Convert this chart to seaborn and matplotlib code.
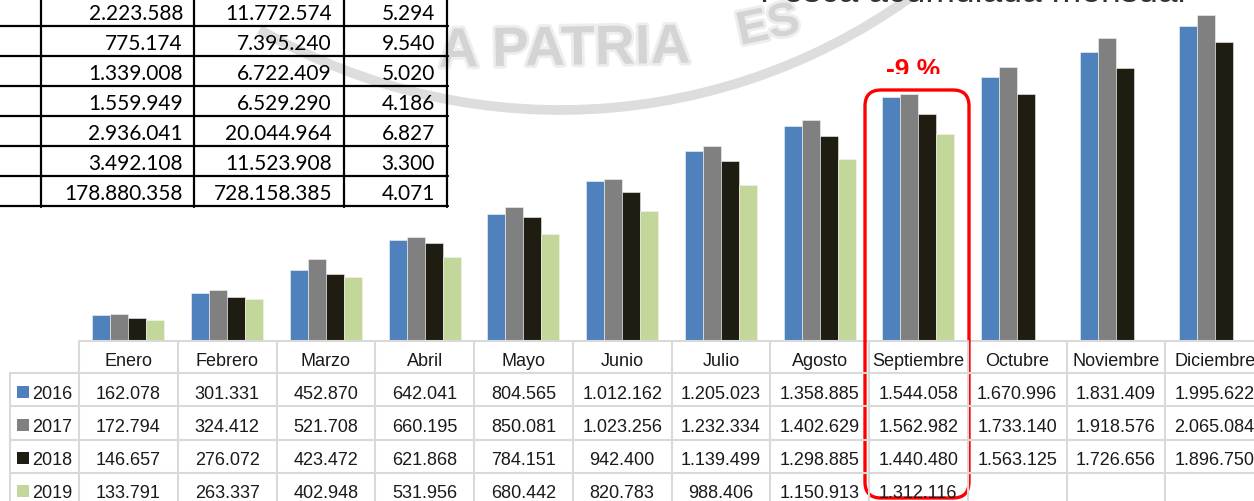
import matplotlib
matplotlib.use('Agg')
import matplotlib.pyplot as plt
import matplotlib.transforms as mtransforms
import matplotlib.patheffects as pe
from matplotlib.patches import FancyBboxPatch, Rectangle, Arc
from matplotlib import font_manager
import seaborn as sns
import pandas as pd

# pesca acumulada mensual (t)
meses = ['Enero', 'Febrero', 'Marzo', 'Abril', 'Mayo', 'Junio', 'Julio',
         'Agosto', 'Septiembre', 'Octubre', 'Noviembre', 'Diciembre']
anios = ['2016', '2017', '2018', '2019']
pesca_2016 = [162078, 301331, 452870, 642041, 804565, 1012162, 1205023,
              1358885, 1544058, 1670996, 1831409, 1995622]
pesca_2017 = [172794, 324412, 521708, 660195, 850081, 1023256, 1232334,
              1402629, 1562982, 1733140, 1918576, 2065084]
pesca_2018 = [146657, 276072, 423472, 621868, 784151, 942400, 1139499,
              1298885, 1440480, 1563125, 1726656, 1896750]
pesca_2019 = [133791, 263337, 402948, 531956, 680442, 820783, 988406,
              1150913, 1312116]
colores = ['#4F81BD', '#808080', '#1F1C12', '#C4D79B']

# tabla recortada de arriba a la izquierda
tabla_col1 = [2223588, 775174, 1339008, 1559949, 2936041, 3492108, 178880358]
tabla_col2 = [11772574, 7395240, 6722409, 6529290, 20044964, 11523908, 728158385]
tabla_col3 = [5294, 9540, 5020, 4186, 6827, 3300, 4071]


def fmt(v):
    return f'{v:,}'.replace(',', '.')


rows = []
for anio, valores in zip(anios, [pesca_2016, pesca_2017, pesca_2018, pesca_2019]):
    for mes, v in zip(meses, valores):
        rows.append((mes, anio, v))
df = pd.DataFrame(rows, columns=['Mes', 'Año', 'Toneladas'])

nombres = {f.name for f in font_manager.fontManager.ttflist}
if 'Liberation Sans Narrow' in nombres:
    fuente_tabla, tam_tabla = 'Liberation Sans Narrow', 15
else:
    fuente_tabla, tam_tabla = 'Liberation Sans', 13

sns.set_style('white')
plt.rcParams['font.family'] = ['Liberation Sans', 'DejaVu Sans']

W, H = 1254, 501
fig = plt.figure(figsize=(W / 100, H / 100), dpi=100)
# pixel coords measured from the top-left corner
px = mtransforms.Affine2D().scale(1 / W, -1 / H).translate(0, 1) + fig.transFigure

base = 341
ax = fig.add_axes([79 / W, (H - base) / H, (1264 - 79) / W, base / H])
ax.patch.set_visible(False)
sns.barplot(data=df, x='Mes', y='Toneladas', hue='Año', order=meses, hue_order=anios,
            palette=colores, saturation=1, width=0.73, errorbar=None,
            edgecolor='#F4F4F4', linewidth=0.4, legend=False, ax=ax)
ax.set_xlim(-0.5, 11.5)
ax.set_ylim(0, base / 0.00015786)
ax.set_xticks([])
ax.set_yticks([])
ax.set_xlabel('')
ax.set_ylabel('')
sns.despine(ax=ax, left=True)
ax.spines['bottom'].set_color('#D9D9D9')
ax.spines['bottom'].set_linewidth(1.5)

# tabla de datos bajo el grafico
bt = mtransforms.blended_transform_factory(ax.transData, px)
gris = '#D9D9D9'
for i in range(13):
    fig.add_artist(plt.Line2D([i - 0.5, i - 0.5], [base, H + 5], transform=bt,
                              color=gris, lw=1.5))
fig.add_artist(plt.Line2D([10, 10], [373, H + 5], transform=px, color=gris, lw=1.5))
for y in [373, 406.5, 440, 473.5]:
    fig.add_artist(plt.Line2D([10, W + 20], [y, y], transform=px, color=gris, lw=1.5))

txt = dict(fontsize=tam_tabla, family=fuente_tabla, color='#1A1A1A', va='baseline')
for i, mes in enumerate(meses):
    fig.text(i, 366.5, mes, transform=bt, ha='center', **txt)
baselines = [399, 432, 465, 498]
for anio, valores, color, yb in zip(anios, [pesca_2016, pesca_2017, pesca_2018, pesca_2019],
                                    colores, baselines):
    fig.add_artist(Rectangle((17, yb - 13), 12, 12, transform=px, color=color, lw=0))
    fig.text(32, yb, anio, transform=px, ha='left', **txt)
    for i, v in enumerate(valores):
        fig.text(i, yb, fmt(v), transform=bt, ha='center', **txt)

# tabla superior izquierda (recortada)
for x in [41, 194, 344, 447]:
    fig.add_artist(plt.Line2D([x, x], [-5, 207], transform=px, color='black', lw=1.6))
for k in range(7):
    y = 26.5 + 30 * k
    fig.add_artist(plt.Line2D([-5, 448], [y, y], transform=px, color='black', lw=1.6))
for k, (a, b, c) in enumerate(zip(tabla_col1, tabla_col2, tabla_col3)):
    yb = 20.5 + 30 * k
    for x, v in [(183, a), (332, b), (435, c)]:
        fig.text(x, yb, fmt(v), transform=px, ha='right', va='baseline',
                 fontsize=15, family=['Lato', 'DejaVu Sans'], color='black')

# sello de agua
wm = '#D4D4D4'
halo = [pe.withStroke(linewidth=4, foreground='#EEEEEE')]
fig.add_artist(Arc((560, -491), 1202, 1202, theta1=50, theta2=120, transform=px,
                   color='#DDDDDD', lw=7, zorder=-1))
fig.text(438, 67, 'A PATRIA', transform=px, ha='left', va='baseline', fontsize=40,
         color=wm, rotation=1, zorder=-1, fontweight='bold', path_effects=halo)
fig.text(733, 45, 'ES', transform=px, ha='left', va='baseline', fontsize=34,
         color=wm, rotation=12, zorder=-1, fontweight='bold', path_effects=halo)

# titulo cortado
fig.text(760, 2, 'Pesca acumulada mensual', transform=px, ha='left', va='baseline',
         fontsize=25.5, color='#333333')

# resaltado septiembre
marca = fig.text(913, 77, '-9 %', transform=px, ha='center', va='baseline',
                 fontsize=19, fontweight='bold', color='#FF0000')
marca.set_clip_path(Rectangle((850, 30), 150, 44, transform=px))
fig.add_artist(FancyBboxPatch((865, 90), 104, 408, boxstyle='round,pad=0,rounding_size=16',
                              transform=px, fill=False, edgecolor='#FF0000', lw=2.4))

fig.savefig('out.png', dpi=100)
plt.close()
